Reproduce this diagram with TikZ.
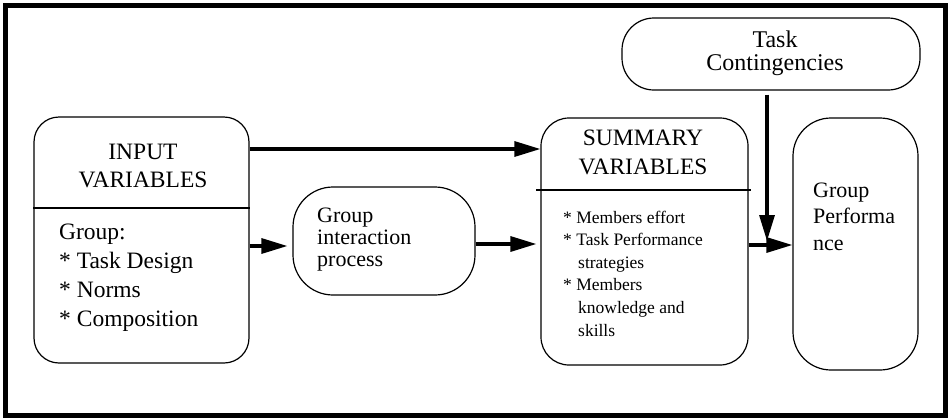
\documentclass[tikz,border=0pt]{standalone}
\usepackage{fontspec}
\setmainfont{Liberation Serif}
\usetikzlibrary{arrows.meta}

\tikzset{
  varbox/.style={draw, line width=1.2pt, rounded corners=#1, inner sep=0pt},
  varbox/.default=25pt,
  divider/.style={line width=2pt},
  flow/.style={line width=3.2pt, -{Triangle[length=26pt,width=15pt]}},
  boxtext/.style={inner sep=0pt}
}

\begin{document}
\begin{tikzpicture}[x=1pt,y=-1pt]
    \useasboundingbox (0,0) rectangle (950,418);
    \draw [line width=5pt] (5.5,5) rectangle (945.5,415);

    \node[varbox, minimum width=215pt, minimum height=246pt] (in) at (141.5,240) {};
    \node[varbox=40pt, minimum width=182pt, minimum height=108pt] (gip) at (384,241) {};
    \node[varbox=28pt, minimum width=207pt, minimum height=247pt] (sum) at (644.5,241.5) {};
    \node[varbox=32pt, minimum width=298pt, minimum height=72pt] (task) at (771,54) {};
    \node[varbox=38pt, minimum width=125pt, minimum height=252pt] (perf) at (855.5,244) {};

    \node[boxtext, font=\fontsize{23.5}{28.5}\selectfont, align=center] (intitle) at (143,166) {INPUT\\VARIABLES};
    \node[boxtext, font=\fontsize{23.5}{29}\selectfont, align=left, anchor=west] (inbody) at (59,277.5)
        {Group:\\* Task Design\\* Norms\\* Composition};
    \node[boxtext, font=\fontsize{22}{22}\selectfont, align=left, anchor=west] (giptext) at (317,240)
        {Group\\interaction\\process};
    \node[boxtext, font=\fontsize{23.5}{29}\selectfont, align=center] (sumtitle) at (643,152.5) {SUMMARY\\VARIABLES};
    \node[boxtext, font=\fontsize{17.5}{22.6}\selectfont, align=left, anchor=west] (sumbody) at (563,273.5)
        {* Members effort\\* Task Performance\\\hspace*{15pt}strategies\\* Members\\\hspace*{15pt}knowledge and\\\hspace*{15pt}skills};
    \node[boxtext, font=\fontsize{24}{23}\selectfont, align=center] (tasktext) at (775,53.5) {Task\\Contingencies};
    \node[boxtext, font=\fontsize{22}{26.5}\selectfont, align=left, anchor=west] (perftext) at (813,216.5)
        {Group\\Performa\\nce};

    \draw [divider] (in.west |- 0,208) -- (in.east |- 0,208);
    \draw [divider, shorten <=-4pt, shorten >=-2pt] (sum.west |- 0,190) -- (sum.east |- 0,190);

    \coordinate (meet) at (767,241);

    \draw [flow] (in.east |- 0,149) -- (sum.west |- 0,149);
    \draw [flow, shorten >=5pt] (in.east |- 0,246) -- (gip.west |- 0,246);
    \draw [flow, shorten >=4pt] (gip.east |- 0,244) -- (sum.west |- 0,244);
    \draw [flow] (sum.east |- 0,245) -- (perf.west |- 0,245);
    \draw [flow, shorten <=4pt] (meet |- task.south) -- (meet);
\end{tikzpicture}
\end{document}
